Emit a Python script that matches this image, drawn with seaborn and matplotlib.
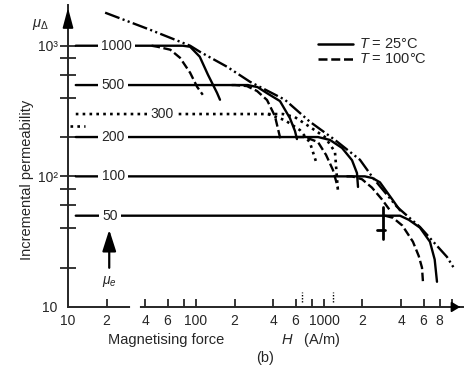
import numpy as np
import pandas as pd
import seaborn as sns
import matplotlib.pyplot as plt

# permeability levels and their labels
levels = [1000, 500, 300, 200, 100, 50]
level_labels = ["1000", "500", "300", "200", "100", "50"]
label_H = [23.9, 22.5, 54, 22.5, 22.5, 21.3]

# T = 25 C curves (solid)
h_1000_25 = [11.5, 79, 90, 107, 124, 146, 154]
mu_1000_25 = [1000, 1000, 982, 824, 600, 436, 386]
h_500_25 = [11.5, 221, 254, 303, 358, 453, 542, 594, 615]
mu_500_25 = [500, 500, 500, 482, 434, 377, 279, 222, 193]
h_200_25 = [11.5, 898, 1114, 1384, 1656, 1811, 1845]
mu_200_25 = [200, 200, 190, 165, 133, 106, 83]
h_100_25 = [11.5, 2089, 2400, 2738, 3459, 3926]
mu_100_25 = [100, 100, 97, 90, 65.5, 54.9]
h_50_25 = [11.5, 3926, 4600, 5623, 6730, 7330, 7640]
mu_50_25 = [50, 50, 46.5, 40.5, 31.6, 23.1, 15.6]

# T = 100 C curves (dashed)
h_1000_100 = [45, 50, 63, 75, 90, 102, 113]
mu_1000_100 = [1000, 982, 932, 809, 621, 485, 421]
h_500_100 = [190, 202, 250, 300, 359, 414, 461]
mu_500_100 = [500, 500, 491, 450, 384, 289, 186]
h_200_100 = [600, 711, 898, 1038, 1175, 1285]
mu_200_100 = [200, 200, 183, 146, 112, 82]
h_100_100 = [1500, 1656, 1982, 2371, 2840, 3280]
mu_100_100 = [100, 100, 95, 82, 66.6, 54.9]
h_50_100 = [3000, 3459, 4100, 4955, 5500, 5834, 5935]
mu_50_100 = [50, 48.2, 42, 31.6, 24.6, 20, 15.6]

# 300 material (dotted)
h_300_a = [11.5, 479, 593, 776, 1018, 1219, 1285]
mu_300_a = [300, 300, 284, 239, 200, 154, 78]
h_300_b = [365, 495, 649, 776, 866]
mu_300_b = [300, 269, 226, 182, 130]

# envelope (dash-dot)
h_env = [19.5, 43.7, 90, 107, 175, 264, 495, 776, 1219, 1910, 2414, 3715, 5623, 9140, 10550]
mu_env = [1791, 1326, 1000, 900, 690, 530, 386, 262, 190, 134, 97.4, 58.5, 41, 24.2, 19.3]

# axis ticks
x_ticks = [10, 20, 40, 60, 80, 100, 200, 400, 600, 800, 1000, 2000, 4000, 6000, 8000, 10000]
x_labels = ["10", "2", "4", "6", "", "100", "2", "4", "6", "", "1000", "2", "4", "6", "8", ""]
y_ticks = [10, 20, 40, 60, 80, 100, 200, 400, 600, 800, 1000]
y_labels = ["10", "", "", "", "", "10²", "", "", "", "", "10³"]

sns.set_style("ticks")
plt.rcParams['font.family'] = ['Liberation Sans', 'DejaVu Sans']
plt.rcParams['mathtext.fontset'] = 'custom'
plt.rcParams['mathtext.rm'] = 'Liberation Sans'
plt.rcParams['mathtext.it'] = 'Liberation Sans:italic'

fig = plt.figure(figsize=(4.67, 3.71), dpi=100)
ax = fig.add_axes([68/467, 1 - 307/371, (463 - 68)/467, (307 - 5)/371])
ax.set_xscale('log')
ax.set_yscale('log')

solid = '-'
dashed = (0, (3.6, 1.5))
dotted = (0, (1, 1.6))
dashdot = (0, (6.5, 1.4, 0.9, 1.4, 0.9, 1.4))

curves = [
    (h_1000_25, mu_1000_25, solid, 1.7),
    (h_500_25, mu_500_25, solid, 1.7),
    (h_200_25, mu_200_25, solid, 1.7),
    (h_100_25, mu_100_25, solid, 1.7),
    (h_50_25, mu_50_25, solid, 1.7),
    (h_1000_100, mu_1000_100, dashed, 1.7),
    (h_500_100, mu_500_100, dashed, 1.7),
    (h_200_100, mu_200_100, dashed, 1.7),
    (h_100_100, mu_100_100, dashed, 1.7),
    (h_50_100, mu_50_100, dashed, 1.7),
    (h_300_a, mu_300_a, dotted, 1.9),
    (h_300_b, mu_300_b, dotted, 1.9),
    (h_env, mu_env, dashdot, 1.7),
]
for h, mu, ls, lw in curves:
    sns.lineplot(x=h, y=mu, ax=ax, color='black', lw=lw, linestyle=ls,
                 sort=False, estimator=None)

# little dotted stub on the left
ax.plot([10.4, 13.6], [245, 245], color='black', lw=1.9, linestyle=dotted)

# level labels
for hx, lvl, s in zip(label_H, levels, level_labels):
    ax.text(hx, lvl, s, ha='center', va='center', fontsize=10,
            bbox=dict(fc='white', ec='none', pad=2.5), zorder=4)

# "+" marker on the 50 line
ax.plot([2880, 2880], [58, 33.4], color='black', lw=2)
ax.plot([2594, 3000], [39, 39], color='black', lw=2)

# mu_e arrow
ax.annotate('', xy=(21, 41), xytext=(21, 19),
            arrowprops=dict(arrowstyle='-|>,head_length=1.0,head_width=0.32',
                            color='black', lw=1.6, mutation_scale=13))
ax.text(21, 15.6, r'$\mu_e$', ha='center', va='center', fontsize=10)

# dotted marks above the x axis
for hx in [674, 1174]:
    ax.plot([hx, hx], [10.9, 13], color='black', lw=1.0, linestyle=(0, (1, 1.2)))

ax.set_xlim(10, 12200)
ax.set_ylim(10, 2050)
ax.xaxis.set_minor_locator(plt.NullLocator())
ax.yaxis.set_minor_locator(plt.NullLocator())
ax.set_xticks(x_ticks)
ax.set_xticklabels(x_labels)
ax.set_yticks(y_ticks)
ax.set_yticklabels(y_labels)
ax.tick_params(axis='x', direction='in', length=6, width=1.3, labelsize=10, pad=5)
ax.tick_params(axis='y', direction='inout', length=12, width=1.3, labelsize=10, pad=1.5)
ax.xaxis.get_major_ticks()[0].tick1line.set_visible(False)
ax.yaxis.get_major_ticks()[0].tick1line.set_visible(False)

sns.despine(ax=ax)
for side in ['left', 'bottom']:
    ax.spines[side].set_linewidth(1.4)

# axis break and arrow heads
ax.plot([31.6, 35.2], [10, 10], color='white', lw=3, clip_on=False, zorder=5)
ax.annotate('', xy=(0, 1.0), xytext=(0, 0.94), xycoords='axes fraction',
            arrowprops=dict(arrowstyle='-|>,head_length=1.2,head_width=0.32',
                            color='black', lw=1.3, mutation_scale=10))
ax.annotate('', xy=(1.0, 0), xytext=(0.98, 0), xycoords='axes fraction',
            arrowprops=dict(arrowstyle='-|>,head_length=0.5,head_width=0.3',
                            color='black', lw=1.3, mutation_scale=10))

# legend
ax.plot([0.632, 0.721], [0.87, 0.87], color='black', lw=1.8, transform=ax.transAxes)
ax.plot([0.632, 0.721], [0.82, 0.82], color='black', lw=1.8, linestyle=dashed,
        transform=ax.transAxes)
ax.text(0.736, 0.87, r'$T$ = 25°C', transform=ax.transAxes, va='center', fontsize=10.5)
ax.text(0.736, 0.82, r'$T$ = 100°C', transform=ax.transAxes, va='center', fontsize=10.5)

# axis titles
fig.text(27/467, 1 - 180/371, 'Incremental permeability', rotation=90,
         ha='center', va='center', fontsize=10.5)
fig.text(40/467, 1 - 25/371, r'$\mu_\Delta$', ha='center', va='center', fontsize=10.5)
fig.text(166/467, 1 - 340/371, 'Magnetising force', ha='center', va='center', fontsize=10.5)
fig.text(311/467, 1 - 340/371, r'$H$   (A/m)', ha='center', va='center', fontsize=10.5)
fig.text(265/467, 1 - 358/371, '(b)', ha='center', va='center', fontsize=10.5)

fig.savefig('out.png', dpi=100)
